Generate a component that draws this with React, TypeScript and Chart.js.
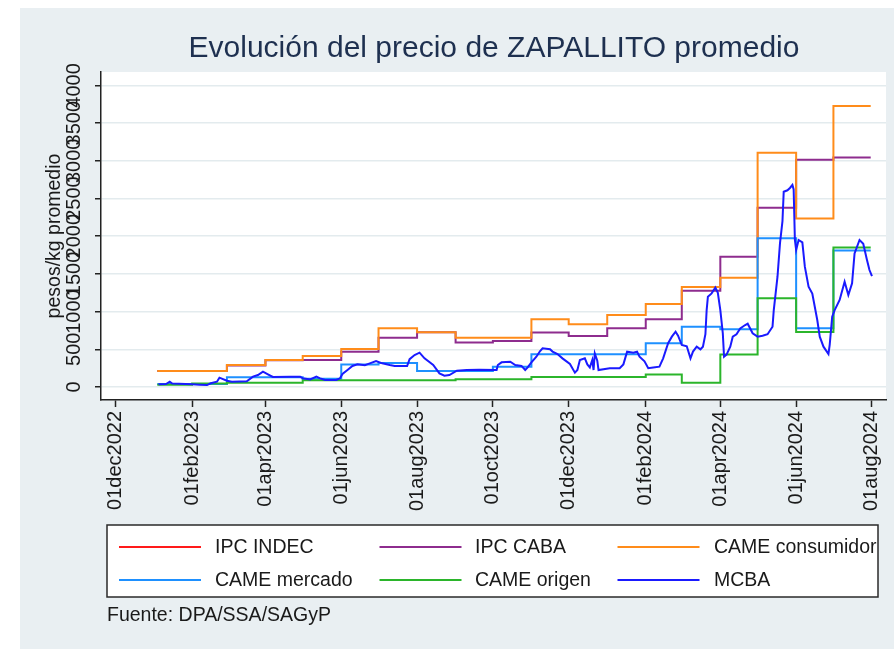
import React, { useEffect, useRef } from "react";
import { Chart, registerables } from "chart.js";

Chart.register(...registerables);

const FONT = "'Liberation Sans', Arial, Helvetica, sans-serif";
const BG = "#e9eff2";
const GRID = "#e3ebee";
const INK = "#1a1a1a";
const TITLE_COLOR = "#1e3050";

const TITLE = "Evolución del precio de ZAPALLITO promedio";
const Y_TITLE = "pesos/kg promedio";
const NOTE = "Fuente: DPA/SSA/SAGyP";

const seriesNames = ["IPC INDEC", "IPC CABA", "CAME consumidor", "CAME mercado", "CAME origen", "MCBA"];
const seriesColors = ["#ff1a1a", "#8e2c8e", "#ff8c1a", "#1e90ff", "#2bb52b", "#1a1aff"];

const xTickDates = [
  "2022-12-01", "2023-02-01", "2023-04-01", "2023-06-01", "2023-08-01", "2023-10-01",
  "2023-12-01", "2024-02-01", "2024-04-01", "2024-06-01", "2024-08-01",
];
const yTicks = [0, 500, 1000, 1500, 2000, 2500, 3000, 3500, 4000];

// monthly step series (value holds from each date until the next)
const stepDates = [
  "2023-01-04", "2023-02-01", "2023-03-01", "2023-04-01", "2023-05-01", "2023-06-01",
  "2023-07-01", "2023-08-01", "2023-09-01", "2023-10-01", "2023-11-01", "2023-12-01",
  "2024-01-01", "2024-02-01", "2024-03-01", "2024-04-01", "2024-05-01", "2024-06-01",
  "2024-07-01", "2024-07-31",
];
const ipcIndec: number[] = [];
const ipcCaba = [212, 212, 285, 355, 358, 468, 654, 725, 590, 610, 722, 676, 778, 900, 1278, 1728, 2378, 3015, 3046, 3046];
const cameConsumidor = [212, 212, 292, 358, 411, 504, 778, 725, 654, 654, 900, 831, 955, 1100, 1326, 1450, 3108, 2237, 3727, 3727];
const cameMercado = [40, 40, 130, 130, 110, 300, 320, 212, 212, 270, 434, 434, 434, 580, 800, 765, 1972, 778, 1810, 1810];
const cameOrigen = [30, 45, 57, 57, 90, 90, 90, 90, 104, 104, 132, 132, 132, 165, 57, 430, 1176, 728, 1850, 1850];

const mcbaDates = [
  "2023-01-05", "2023-01-11", "2023-01-14", "2023-01-16", "2023-02-01", "2023-02-07", "2023-02-13", "2023-02-16", "2023-02-21", "2023-02-23",
  "2023-03-01", "2023-03-05", "2023-03-17", "2023-03-22", "2023-03-26", "2023-03-30", "2023-04-03", "2023-04-07", "2023-04-21", "2023-04-29",
  "2023-05-01", "2023-05-07", "2023-05-12", "2023-05-15", "2023-05-19", "2023-05-28", "2023-05-31", "2023-06-02", "2023-06-06", "2023-06-10",
  "2023-06-14", "2023-06-20", "2023-06-24", "2023-06-29", "2023-07-04", "2023-07-10", "2023-07-14", "2023-07-24", "2023-07-26", "2023-07-30",
  "2023-08-03", "2023-08-07", "2023-08-14", "2023-08-19", "2023-08-23", "2023-08-27", "2023-09-02", "2023-09-10", "2023-09-20", "2023-10-04",
  "2023-10-05", "2023-10-08", "2023-10-15", "2023-10-19", "2023-10-24", "2023-10-27", "2023-10-29", "2023-11-01", "2023-11-05", "2023-11-08",
  "2023-11-10", "2023-11-16", "2023-11-18", "2023-11-22", "2023-11-26", "2023-12-02", "2023-12-06", "2023-12-08", "2023-12-10", "2023-12-14",
  "2023-12-16", "2023-12-18", "2023-12-20", "2023-12-21", "2023-12-22", "2023-12-24", "2023-12-25", "2024-01-03", "2024-01-11", "2024-01-14",
  "2024-01-17", "2024-01-22", "2024-01-25", "2024-01-27", "2024-01-31", "2024-02-03", "2024-02-07", "2024-02-12", "2024-02-15", "2024-02-19",
  "2024-02-22", "2024-02-25", "2024-02-27", "2024-03-01", "2024-03-05", "2024-03-08", "2024-03-10", "2024-03-13", "2024-03-16", "2024-03-18",
  "2024-03-20", "2024-03-21", "2024-03-22", "2024-03-25", "2024-03-28", "2024-03-30", "2024-04-01", "2024-04-03", "2024-04-04", "2024-04-06",
  "2024-04-09", "2024-04-11", "2024-04-14", "2024-04-17", "2024-04-21", "2024-04-23", "2024-04-27", "2024-05-01", "2024-05-05", "2024-05-09",
  "2024-05-13", "2024-05-14", "2024-05-17", "2024-05-19", "2024-05-21", "2024-05-22", "2024-05-25", "2024-05-27", "2024-05-29", "2024-05-30",
  "2024-05-31", "2024-06-01", "2024-06-03", "2024-06-06", "2024-06-08", "2024-06-11", "2024-06-14", "2024-06-18", "2024-06-20", "2024-06-23",
  "2024-06-27", "2024-06-28", "2024-06-30", "2024-07-02", "2024-07-06", "2024-07-10", "2024-07-13", "2024-07-16", "2024-07-18", "2024-07-22",
  "2024-07-25", "2024-07-28", "2024-07-30", "2024-08-01",
];
const mcbaValues = [
  36, 40, 70, 45, 36, 30, 26, 50, 70, 124,
  84, 70, 75, 137, 159, 203, 168, 133, 137, 137,
  115, 100, 137, 115, 93, 93, 115, 172, 225, 279,
  301, 290, 314, 345, 314, 292, 279, 279, 370, 424,
  455, 380, 292, 181, 150, 159, 216, 225, 230, 225,
  292, 327, 335, 292, 280, 225, 260, 327, 402, 477,
  513, 500, 470, 438, 380, 305, 190, 225, 358, 380,
  300, 260, 358, 225, 446, 350, 225, 248, 248, 300,
  468, 455, 468, 402, 340, 250, 260, 270, 380, 580,
  668, 733, 680, 557, 540, 380, 470, 535, 500, 535,
  700, 1021, 1198, 1242, 1320, 1250, 1021, 712, 402, 430,
  535, 668, 700, 778, 822, 840, 712, 668, 680, 700,
  800, 1021, 1463, 1906, 2200, 2590, 2610, 2640, 2680, 2620,
  1950, 1817, 1950, 1920, 1596, 1330, 1240, 889, 668, 535,
  438, 560, 932, 1021, 1154, 1397, 1220, 1375, 1773, 1950,
  1900, 1684, 1552, 1472,
];

const ORIGIN = Date.UTC(2022, 11, 1);
const DAY = 86400000;
const MONTHS = ["jan", "feb", "mar", "apr", "may", "jun", "jul", "aug", "sep", "oct", "nov", "dec"];
const dayOf = (s: string) => {
  const [y, m, d] = s.split("-").map(Number);
  return (Date.UTC(y, m - 1, d) - ORIGIN) / DAY;
};
const fmtDay = (v: number) => {
  const dt = new Date(ORIGIN + Math.round(v) * DAY);
  return String(dt.getUTCDate()).padStart(2, "0") + MONTHS[dt.getUTCMonth()] + dt.getUTCFullYear();
};
const pts = (dates: string[], vals: number[]) => vals.map((v, i) => ({ x: dayOf(dates[i]), y: v }));

const X_MIN = -11.3;
const X_MAX = 620.3;
const Y_MIN = -172.5;
const Y_MAX = 4179;

const decor = {
  id: "decor",
  beforeDraw(chart: any) {
    const { ctx, chartArea: a } = chart;
    ctx.save();
    ctx.fillStyle = BG;
    ctx.fillRect(0, 0, chart.width, chart.height);
    ctx.fillStyle = "#ffffff";
    ctx.fillRect(a.left, a.top, a.right - a.left, a.bottom - a.top);
    ctx.restore();
  },
  afterDraw(chart: any) {
    const { ctx } = chart;
    ctx.save();
    // title
    ctx.fillStyle = TITLE_COLOR;
    ctx.font = `30px ${FONT}`;
    ctx.textAlign = "center";
    ctx.textBaseline = "middle";
    ctx.fillText(TITLE, 474, 41);
    // legend box
    const bx = 87, by = 517, bw = 771, bh = 72;
    ctx.fillStyle = "#ffffff";
    ctx.fillRect(bx, by, bw, bh);
    ctx.strokeStyle = "#2a2a2a";
    ctx.lineWidth = 1.5;
    ctx.strokeRect(bx, by, bw, bh);
    ctx.beginPath();
    ctx.rect(bx + 1, by + 1, bw - 2, bh - 2);
    ctx.clip();
    const lineX = [99, 359.5, 597.5];
    const textX = [195, 455, 694];
    const rowY = [539, 572];
    ctx.font = `19.5px ${FONT}`;
    ctx.textAlign = "left";
    ctx.textBaseline = "middle";
    seriesNames.forEach((name, i) => {
      const c = i % 3, r = Math.floor(i / 3);
      ctx.strokeStyle = seriesColors[i];
      ctx.lineWidth = 2;
      ctx.beginPath();
      ctx.moveTo(lineX[c], rowY[r]);
      ctx.lineTo(lineX[c] + 82, rowY[r]);
      ctx.stroke();
      ctx.fillStyle = INK;
      ctx.fillText(name, textX[c], rowY[r] + 1);
    });
    ctx.restore();
    ctx.save();
    ctx.fillStyle = INK;
    ctx.font = `19.5px ${FONT}`;
    ctx.textAlign = "left";
    ctx.textBaseline = "middle";
    ctx.fillText(NOTE, 87, 608);
    ctx.restore();
  },
};

export default function App() {
  const ref = useRef<HTMLCanvasElement | null>(null);
  useEffect(() => {
    if (!ref.current) return;
    const stepped = (i: number, vals: number[]) => ({
      label: seriesNames[i],
      data: pts(stepDates, vals),
      borderColor: seriesColors[i],
      backgroundColor: seriesColors[i],
      borderWidth: 2,
      pointRadius: 0,
      stepped: true,
      fill: false,
      order: 5 - i,
    });
    const chart = new Chart(ref.current, {
      type: "line",
      data: {
        datasets: [
          stepped(0, ipcIndec),
          stepped(1, ipcCaba),
          stepped(2, cameConsumidor),
          stepped(3, cameMercado),
          stepped(4, cameOrigen),
          {
            label: seriesNames[5],
            data: pts(mcbaDates, mcbaValues),
            borderColor: seriesColors[5],
            backgroundColor: seriesColors[5],
            borderWidth: 2,
            pointRadius: 0,
            tension: 0,
            fill: false,
            order: 0,
          },
        ],
      },
      options: {
        responsive: false,
        animation: false,
        devicePixelRatio: 1,
        events: [],
        layout: { padding: { left: 0, top: 64, right: 8, bottom: 119 } },
        plugins: {
          legend: { display: false },
          title: { display: false },
          tooltip: { enabled: false },
        },
        scales: {
          x: {
            type: "linear",
            min: X_MIN,
            max: X_MAX,
            afterBuildTicks: (s: any) => {
              s.ticks = xTickDates.map((d) => ({ value: dayOf(d) }));
            },
            afterFit: (s: any) => {
              s.height = 130;
              s.paddingLeft = 0;
              s.paddingRight = 0;
            },
            ticks: {
              autoSkip: false,
              minRotation: 90,
              maxRotation: 90,
              padding: 4,
              color: INK,
              font: { family: FONT, size: 20 },
              callback: (v: any) => fmtDay(Number(v)),
            },
            grid: {
              drawOnChartArea: false,
              drawTicks: true,
              tickLength: 7,
              tickColor: "#222",
              tickWidth: 1.5,
            },
            border: { color: "#222", width: 1.5 },
          },
          y: {
            type: "linear",
            min: Y_MIN,
            max: Y_MAX,
            afterBuildTicks: (s: any) => {
              s.ticks = yTicks.map((v) => ({ value: v }));
            },
            afterFit: (s: any) => {
              s.width = 81;
              s.paddingTop = 0;
              s.paddingBottom = 0;
            },
            ticks: {
              autoSkip: false,
              minRotation: 90,
              maxRotation: 90,
              crossAlign: "center",
              padding: -2,
              color: INK,
              font: { family: FONT, size: 20 },
              callback: (v: any) => String(v),
            },
            grid: {
              color: GRID,
              lineWidth: 1.5,
              tickLength: 6,
              tickColor: "#222",
              tickWidth: 1.5,
            },
            border: { color: "#222", width: 1.5 },
            title: {
              display: true,
              text: Y_TITLE,
              color: INK,
              font: { family: FONT, size: 19.5 },
              padding: { top: 23, bottom: 0 },
            },
          },
        },
      } as any,
      plugins: [decor],
    });
    return () => chart.destroy();
  }, []);

  return (
    <div style={{ position: "absolute", left: 0, top: 0, width: 894, height: 649, background: "#ffffff", overflow: "hidden" }}>
      <div style={{ position: "absolute", left: 20, top: 8, width: 874, height: 641, background: BG }}>
        <canvas ref={ref} width={874} height={641} style={{ display: "block" }} />
      </div>
    </div>
  );
}
